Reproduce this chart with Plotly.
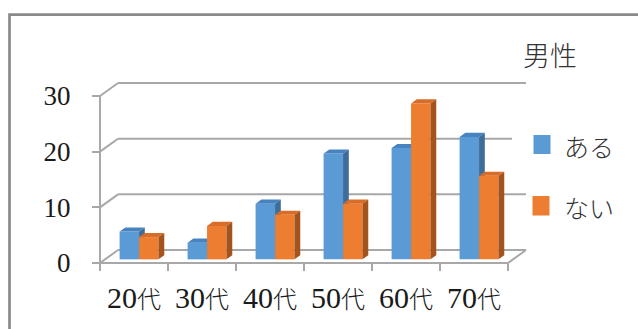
import plotly.graph_objects as go

# ---- data -------------------------------------------------------------
categories = ["20代", "30代", "40代", "50代", "60代", "70代"]
series_names = ["ある", "ない"]
aru = [5, 3, 10, 19, 20, 22]
nai = [4, 6, 8, 10, 28, 15]
y_ticks = [0, 10, 20, 30]
chart_title = "男性"

# ---- styling ----------------------------------------------------------
W, H = 638, 329
FRONT = ["#5B9BD5", "#ED7D31"]
TOP = ["#4683C0", "#D96C27"]
SIDE = ["#3E6D9A", "#A4531D"]
GRID = "#A8A8A8"
FRAME = "#8A8A8A"
TEXT = "#1A1A1A"

# pixel layout of the front plane (value 0..30, categories 0..6)
X0PX, XPX = 100.0, 68.0
Y0PX, YPX = 263.0, 167.0 / 30.0
x_range = [-X0PX / XPX, (W - X0PX) / XPX]
y_range = [-(H - Y0PX) / YPX, Y0PX / YPX]

# oblique depth projection, in data units for the full floor depth
DX, DY = 0.265, 2.33
D0, D1 = 0.28, 0.60     # depth span occupied by the columns
BW = 0.286              # column width (gap width 150%)

n = len(categories)
vmax = max(y_ticks)


def proj(x, v, d):
    return x + d * DX, v + d * DY


fig = go.Figure()

# ---- walls / floor ----------------------------------------------------
wx, wy = [], []


def seg(*pts):
    for p in pts:
        wx.append(p[0])
        wy.append(p[1])
    wx.append(None)
    wy.append(None)


for v in y_ticks:
    seg(proj(0, v, 1), proj(n, v, 1))        # back wall gridline
    seg(proj(0, v, 0), proj(0, v, 1))        # side wall diagonal
seg(proj(0, 0, 0), proj(0, vmax, 0))         # front vertical edge
seg(proj(0, 0, 0), proj(n, 0, 0), proj(n, 0, 1))  # floor front + right edge

fig.add_trace(go.Scatter(x=wx, y=wy, mode="lines",
                         line=dict(color=GRID, width=2),
                         hoverinfo="skip", zorder=0))

# ---- 3D columns -------------------------------------------------------
for s, vals in enumerate([aru, nai]):
    centers = [i + 0.5 for i in range(n)]
    off = (-BW if s == 0 else 0.0)
    # front faces
    fig.add_trace(go.Bar(
        x=centers, y=vals, base=[D0 * DY] * n, width=BW,
        offset=off + D0 * DX, marker=dict(color=FRONT[s], line=dict(width=0)),
        name=series_names[s], zorder=s + 1))
    tx, ty, sx, sy = [], [], [], []
    for c, h in zip(centers, vals):
        xl = c + off
        xr = xl + BW
        for p in (proj(xl, h, D0), proj(xr, h, D0), proj(xr, h, D1), proj(xl, h, D1)):
            tx.append(p[0]); ty.append(p[1])
        tx.append(None); ty.append(None)
        for p in (proj(xr, 0, D0), proj(xr, 0, D1), proj(xr, h, D1), proj(xr, h, D0)):
            sx.append(p[0]); sy.append(p[1])
        sx.append(None); sy.append(None)
    fig.add_trace(go.Scatter(x=tx, y=ty, mode="lines", fill="toself",
                             fillcolor=TOP[s], line=dict(width=0, color=TOP[s]),
                             hoverinfo="skip", zorder=s + 1))
    fig.add_trace(go.Scatter(x=sx, y=sy, mode="lines", fill="toself",
                             fillcolor=SIDE[s], line=dict(width=0, color=SIDE[s]),
                             hoverinfo="skip", zorder=s + 1))

# ---- axes ---------------------------------------------------------------
tick_text = [f"{c[:-1]}<span style='font-size:24px;font-weight:300'>{c[-1]}</span>"
             for c in categories]

fig.update_layout(
    width=W, height=H, autosize=False,
    margin=dict(l=0, r=0, t=0, b=0),
    paper_bgcolor="white", plot_bgcolor="white",
    showlegend=False, barmode="overlay",
    xaxis=dict(range=x_range, domain=[0, 1], anchor="free",
               position=(H - Y0PX) / H,
               tickvals=[i + 0.5 for i in range(n)], ticktext=tick_text,
               ticks="", showgrid=False, zeroline=False, showline=False,
               minor=dict(tickvals=list(range(n + 1)), ticks="outside",
                          ticklen=7, tickwidth=2, tickcolor=GRID, showgrid=False),
               tickfont=dict(family="Liberation Serif, Noto Sans CJK JP",
                             size=30, color=TEXT),
               ticklabelstandoff=14, fixedrange=True),
    yaxis=dict(range=y_range, domain=[0, 1], anchor="free",
               position=X0PX / W,
               tickvals=y_ticks, ticks="outside", ticklen=8, tickwidth=2,
               tickcolor=GRID, showgrid=False, zeroline=False, showline=False,
               tickfont=dict(family="Liberation Serif", size=27, color=TEXT),
               ticklabelstandoff=16, fixedrange=True),
)


def px(x):
    return x / W


def py(y):
    return 1 - y / H


# ---- chart frame, legend ---------------------------------------------
shapes = [
    dict(type="rect", xref="paper", yref="paper",
         x0=px(9.5), x1=px(W + 20), y0=py(14.7), y1=py(H + 20),
         line=dict(color=FRAME, width=2.7), fillcolor="rgba(0,0,0,0)"),
    # background of the first legend entry
    dict(type="rect", xref="paper", yref="paper",
         x0=px(512), x1=px(628), y0=py(127), y1=py(165),
         line=dict(width=0), fillcolor="white", layer="above"),
    dict(type="rect", xref="paper", yref="paper",
         x0=px(533.5), x1=px(550.5), y0=py(135), y1=py(154),
         line=dict(width=0), fillcolor=FRONT[0], layer="above"),
    dict(type="rect", xref="paper", yref="paper",
         x0=px(532.5), x1=px(549.5), y0=py(196), y1=py(215.5),
         line=dict(width=0), fillcolor=FRONT[1], layer="above"),
]
fig.update_layout(shapes=shapes)

cjk = "Noto Sans CJK JP"
fig.add_annotation(text=chart_title, xref="paper", yref="paper",
                   x=px(549.5), y=py(55), xanchor="center", yanchor="middle",
                   showarrow=False,
                   font=dict(family=cjk, size=27, color="#333333", weight=300))
for name, yc in zip(series_names, [146, 207]):
    fig.add_annotation(text=name, xref="paper", yref="paper",
                       x=px(562), y=py(yc), xanchor="left", yanchor="middle",
                       showarrow=False,
                       font=dict(family=cjk, size=25, color="#333333", weight=300))

fig.write_html("out.html")
